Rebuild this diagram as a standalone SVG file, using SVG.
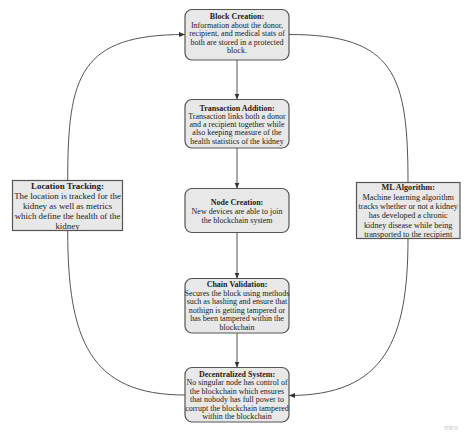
<svg xmlns="http://www.w3.org/2000/svg" width="474" height="442" viewBox="0 0 474 442">
<style>
.box{fill:#e8e8e8;stroke:#555;stroke-width:1.2}
.t{font-family:"Liberation Serif","Times New Roman",serif;fill:#222;text-anchor:middle}
.c{font-size:8px}
.l{font-size:8.9px}
.m{font-size:8.2px}
.b{font-weight:bold}
.conn{fill:none;stroke:#555;stroke-width:1}
</style>
<defs>
<marker id="arr" viewBox="0 0 6 6" refX="6" refY="3" markerWidth="6" markerHeight="6" markerUnits="userSpaceOnUse" orient="auto">
<path d="M0,0.5 L6,3 L0,5.5 Z" fill="#333"/>
</marker>
</defs>
<rect width="474" height="442" fill="#fff"/>
<g id="connectors">
<path class="conn" d="M237 60 L237 99.5" marker-end="url(#arr)"/>
<path class="conn" d="M237 148 L237 188.5" marker-end="url(#arr)"/>
<path class="conn" d="M237 232.5 L237 278.5" marker-end="url(#arr)"/>
<path class="conn" d="M237 333 L237 367.5" marker-end="url(#arr)"/>
<path class="conn" d="M67.7 180.5 C67.7 75 80 34.5 185 34.5" marker-end="url(#arr)"/>
<path class="conn" d="M185 395 C90 395 67.7 340 67.7 230.5"/>
<path class="conn" d="M289 34.5 C395 34.5 408 75 408 182.5"/>
<path class="conn" d="M408 238.5 C408 340 385 395.5 289 395.5" marker-end="url(#arr)"/>
</g>
<g id="block-creation">
<rect class="box" x="185" y="9.5" width="104" height="50.5" rx="7"/>
<text class="t c"><tspan class="b" x="237" y="19">Block Creation:</tspan><tspan x="237" y="27.5">Information about the donor,</tspan><tspan x="237" y="36">recipient, and medical stats of</tspan><tspan x="237" y="44.5">both are stored in a protected</tspan><tspan x="237" y="53">block.</tspan></text>
</g>
<g id="transaction-addition">
<rect class="box" x="185" y="99.5" width="104" height="48.5" rx="7"/>
<text class="t c"><tspan class="b" x="237" y="110.8">Transaction Addition:</tspan><tspan x="237" y="119">Transaction links both a donor</tspan><tspan x="237" y="127.2">and a recipient together while</tspan><tspan x="237" y="135.4">also keeping measure of the</tspan><tspan x="237" y="143.6">health statistics of the kidney</tspan></text>
</g>
<g id="node-creation">
<rect class="box" x="185" y="188.5" width="104" height="44" rx="7"/>
<text class="t c"><tspan class="b" x="237" y="204.5">Node Creation:</tspan><tspan x="237" y="213.5">New devices are able to join</tspan><tspan x="237" y="222.5">the blockchain system</tspan></text>
</g>
<g id="chain-validation">
<rect class="box" x="185" y="278.5" width="104" height="54.5" rx="7"/>
<text class="t c"><tspan class="b" x="237" y="287">Chain Validation:</tspan><tspan x="237" y="295.5">Secures the block using methods</tspan><tspan x="237" y="304">such as hashing and ensure that</tspan><tspan x="237" y="312.5">nothign is getting tampered or</tspan><tspan x="237" y="321">has been tampered within the</tspan><tspan x="237" y="329.5">blockchain</tspan></text>
</g>
<g id="decentralized-system">
<rect class="box" x="185" y="367.5" width="104" height="54.5" rx="7"/>
<text class="t c"><tspan class="b" x="237" y="376.8">Decentralized System:</tspan><tspan x="237" y="385.3">No singular node has control of</tspan><tspan x="237" y="393.8">the blockchain which ensures</tspan><tspan x="237" y="402.3">that nobody has full power to</tspan><tspan x="237" y="410.8">corrupt the blockchain tampered</tspan><tspan x="237" y="419.3">within the blockchain</tspan></text>
</g>
<g id="location-tracking">
<rect class="box" x="12.5" y="180.5" width="110" height="50"/>
<text class="t l"><tspan class="b" x="67.5" y="189">Location Tracking:</tspan><tspan x="67.5" y="199.1">The location is tracked for the</tspan><tspan x="67.5" y="209.2">kidney as well as metrics</tspan><tspan x="67.5" y="219.3">which define the health of the</tspan><tspan x="67.5" y="229.2">kidney</tspan></text>
</g>
<g id="ml-algorithm">
<rect class="box" x="356.5" y="182.5" width="103.5" height="56"/>
<text class="t m"><tspan class="b" x="408.2" y="190.3">ML Algorithm:</tspan><tspan x="408.2" y="199.6">Machine learning algorithm</tspan><tspan x="408.2" y="209">tracks whether or not a kidney</tspan><tspan x="408.2" y="218.4">has developed a chronic</tspan><tspan x="408.2" y="227.8">kidney disease while being</tspan><tspan x="408.2" y="237.2">transported to the recipient</tspan></text>
</g>
<text x="451" y="430" font-family="Liberation Sans, Arial, sans-serif" font-size="7" fill="#c8c8c8" text-anchor="middle">miro</text>
</svg>
